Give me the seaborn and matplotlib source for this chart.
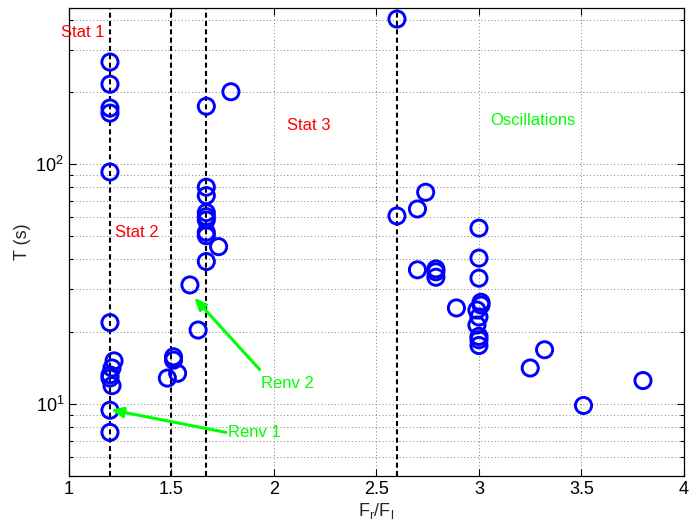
import matplotlib
matplotlib.use("Agg")
import matplotlib.pyplot as plt
import seaborn as sns
import numpy as np
import pandas as pd
from matplotlib.ticker import LogLocator, FixedLocator

# ---------------- data ----------------
fr_fl = [1.20, 1.20, 1.20, 1.20, 1.20, 1.20, 1.22, 1.21, 1.20, 1.20, 1.21, 1.20, 1.20,
         1.51, 1.51, 1.53, 1.48,
         1.59, 1.63,
         1.67, 1.79, 1.67, 1.67, 1.67, 1.67, 1.67, 1.67, 1.67, 1.73, 1.67,
         2.60, 2.60, 2.70, 2.74, 2.70, 2.79, 2.79, 2.79, 2.89,
         3.00, 3.00, 3.00, 3.01, 3.01, 2.99, 3.00, 2.99, 3.00, 3.00, 3.00,
         3.25, 3.32, 3.51, 3.80]
period = [266, 215, 171, 163, 92.6, 21.8, 15.1, 14.1, 13.2, 12.8, 11.9, 9.4, 7.6,
          15.7, 15.2, 13.4, 12.8,
          31.3, 20.3,
          174, 200, 80, 73.8, 62.7, 60.3, 58.4, 51.9, 50.2, 45.2, 39.2,
          402, 60.7, 64.9, 76.2, 36.2, 36.5, 35.5, 33.7, 25.1,
          54.0, 40.5, 33.4, 26.5, 25.8, 24.6, 23.0, 21.3, 19.1, 18.5, 17.5,
          14.1, 16.8, 9.84, 12.5]

boundaries = [1.2, 1.5, 1.67, 2.6]

region_labels = ["Stat 1", "Stat 2", "Stat 3", "Oscillations"]
region_x = [0.96, 1.225, 2.063, 3.054]
region_y = [352, 51.9, 145, 152]
region_colors = ["red", "red", "red", "#00ff00"]

arrow_labels = ["Renv 1", "Renv 2"]
arrow_text_x = [1.775, 1.935]
arrow_text_y = [7.6, 12.2]
arrow_tail_x = [1.765, 1.93]
arrow_tail_y = [7.6, 13.9]
arrow_tip_x = [1.205, 1.611]
arrow_tip_y = [9.44, 27.7]

xticks = [1, 1.5, 2, 2.5, 3, 3.5, 4]
xticklabels = ["1", "1.5", "2", "2.5", "3", "3.5", "4"]

# ---------------- style ----------------
sns.set_style("ticks")
plt.rcParams['font.family'] = ['Liberation Sans', 'DejaVu Sans']
plt.rcParams['mathtext.fontset'] = 'custom'
plt.rcParams['mathtext.rm'] = 'Liberation Sans'
plt.rcParams['mathtext.it'] = 'Liberation Sans:italic'
plt.rcParams['mathtext.default'] = 'regular'

fig = plt.figure(figsize=(6.89, 5.29), dpi=100)
ax = fig.add_axes([0.1001, 0.1002, 0.8926, 0.8847])

df = pd.DataFrame({"x": fr_fl, "y": period})
sns.scatterplot(data=df, x="x", y="y", ax=ax, marker="o", s=135,
                facecolor="none", edgecolor=(0, 0, 1), linewidth=2.1, zorder=5)

for b in boundaries:
    ax.axvline(b, color="black", ls="--", lw=1.5, dashes=(2.4, 1.6), zorder=4)

ax.set_yscale("log")
ax.set_xlim(1, 4)
ax.set_ylim(5, 447)
ax.set_xticks(xticks)
ax.set_xticklabels(xticklabels)
ax.yaxis.set_major_locator(FixedLocator([10, 100]))
ax.yaxis.set_minor_locator(LogLocator(base=10, subs=np.arange(2, 10)))
ax.yaxis.set_minor_formatter(matplotlib.ticker.NullFormatter())

ax.grid(which="major", axis="both", color="0.5", ls=(0, (1, 2.5)), lw=0.7)
ax.grid(which="minor", axis="y", color="0.5", ls=(0, (1, 2.5)), lw=0.7)
ax.set_axisbelow(True)

ax.tick_params(which="both", direction="in", top=True, right=True, labelsize=13,
               colors="black", width=0.8)
ax.tick_params(which="major", length=5)
ax.tick_params(which="minor", length=3)
for sp in ax.spines.values():
    sp.set_visible(True)
    sp.set_linewidth(0.9)
    sp.set_color("black")

ax.set_xlabel("F$_{r}$/F$_{l}$", fontsize=13, labelpad=2)
ax.set_ylabel("T (s)", fontsize=13, labelpad=3)

for lab, tx, ty, c in zip(region_labels, region_x, region_y, region_colors):
    ax.text(tx, ty, lab, color=c, fontsize=12, ha="left", va="center", zorder=6)

for lab, tx, ty, ax0, ay0, ax1, ay1 in zip(arrow_labels, arrow_text_x, arrow_text_y,
                                            arrow_tail_x, arrow_tail_y, arrow_tip_x, arrow_tip_y):
    ax.text(tx, ty, lab, color="#00ff00", fontsize=12, ha="left", va="center", zorder=6)
    ax.annotate("", xy=(ax1, ay1), xytext=(ax0, ay0),
                arrowprops=dict(arrowstyle="-|>,head_length=0.7,head_width=0.3",
                                color="#00ff00", lw=2.2, shrinkA=0, shrinkB=0), zorder=6)

fig.savefig("out.png", dpi=100)
